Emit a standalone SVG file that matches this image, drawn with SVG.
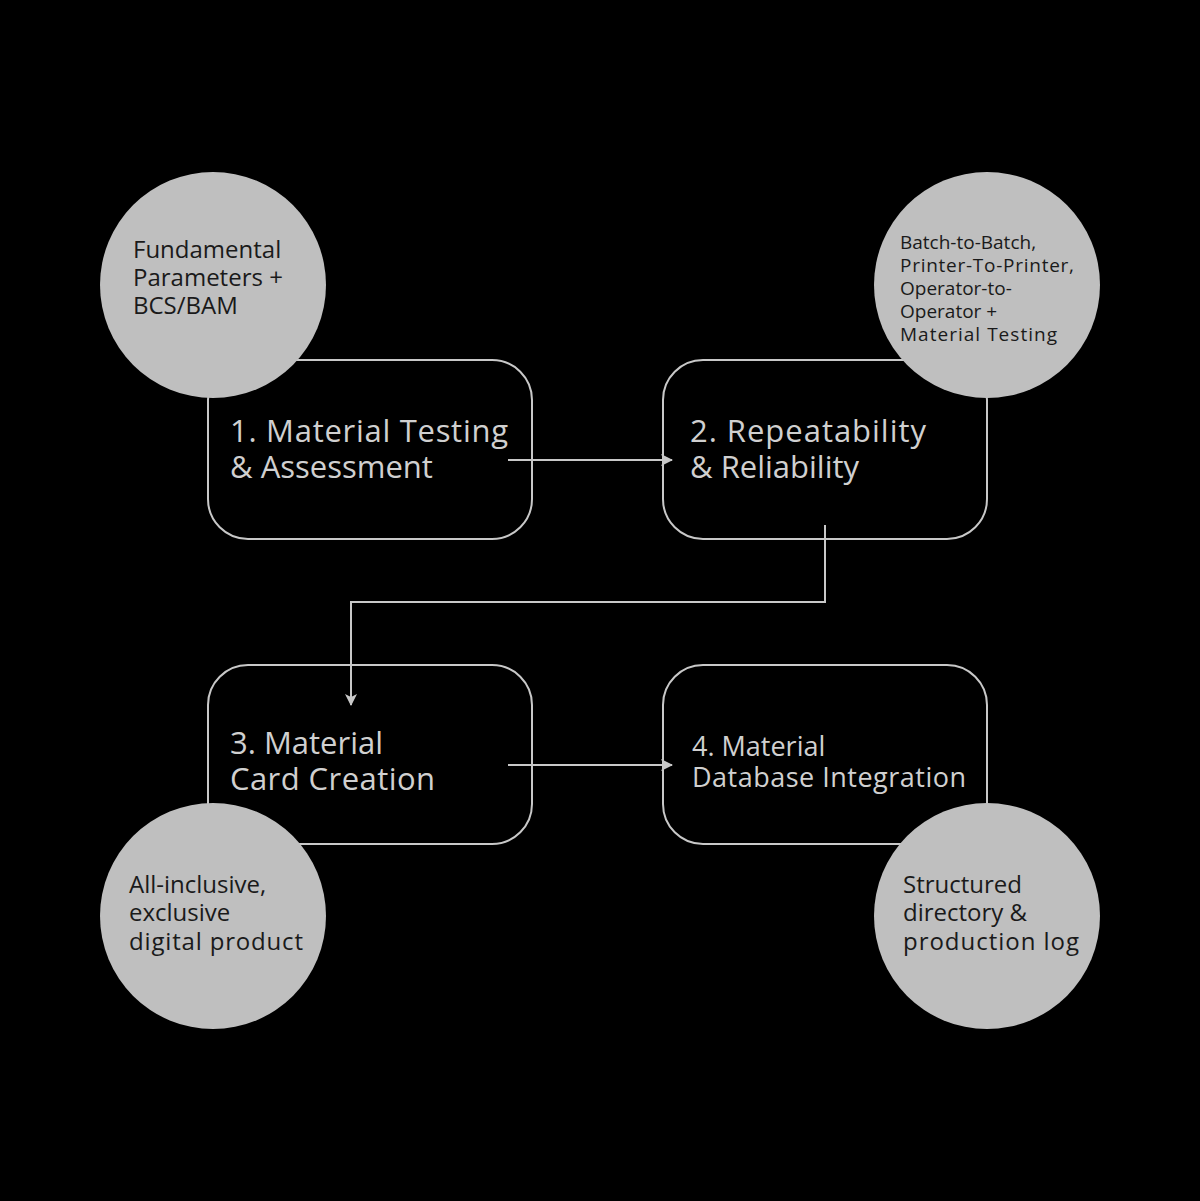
<svg xmlns="http://www.w3.org/2000/svg" width="1200" height="1201" viewBox="0 0 1200 1201">
<style>
.box{fill:#000;stroke:#c8c8c8;stroke-width:2}
.circ{fill:#bfbfbf}
.bt{font-family:"Open Sans","Noto Sans",sans-serif;font-size:31px;fill:#d0d0d0}
.bt2{font-family:"Open Sans","Noto Sans",sans-serif;font-size:27px;fill:#d0d0d0}
.ct{font-family:"Open Sans","Noto Sans",sans-serif;font-size:24px;fill:#1a1a1a}
.cs{font-family:"Open Sans","Noto Sans",sans-serif;font-size:19px;fill:#1a1a1a}
.con{fill:none;stroke:#c8c8c8;stroke-width:2}
</style>
<defs><marker id="ah" markerWidth="12" markerHeight="12" refX="11" refY="6" orient="auto" markerUnits="userSpaceOnUse"><path d="M0,0 L12,6 L0,12 L3,6 Z" fill="#c8c8c8"/></marker></defs>
<rect width="1200" height="1201" fill="#000"/>
<g id="n1"><rect class="box" x="208" y="360" width="324" height="179" rx="40"/>
<text class="bt" x="230" y="442" textLength="278">1. Material Testing</text><text class="bt" x="230" y="478">&amp; Assessment</text></g>
<g id="n2"><rect class="box" x="663" y="360" width="324" height="179" rx="40"/>
<text class="bt" x="690" y="442" textLength="236">2. Repeatability</text><text class="bt" x="690" y="478">&amp; Reliability</text></g>
<g id="n3"><rect class="box" x="208" y="665" width="324" height="179" rx="40"/>
<text class="bt" x="230" y="754">3. Material</text><text class="bt" x="230" y="790" textLength="205">Card Creation</text></g>
<g id="n4"><rect class="box" x="663" y="665" width="324" height="179" rx="40"/>
<text class="bt2" x="692" y="756">4. Material</text><text class="bt2" x="692" y="787" textLength="274">Database Integration</text></g>
<g id="c1"><circle class="circ" cx="213" cy="285" r="113"/>
<text class="ct" x="133" y="258">Fundamental</text><text class="ct" x="133" y="286">Parameters +</text><text class="ct" x="133" y="314">BCS/BAM</text></g>
<g id="c2"><circle class="circ" cx="987" cy="285" r="113"/>
<text class="cs" x="900" y="249">Batch-to-Batch,</text><text class="cs" x="900" y="272" textLength="174">Printer-To-Printer,</text><text class="cs" x="900" y="295">Operator-to-</text><text class="cs" x="900" y="318">Operator +</text><text class="cs" x="900" y="341" textLength="157">Material Testing</text></g>
<g id="c3"><circle class="circ" cx="213" cy="916" r="113"/>
<text class="ct" x="129" y="893">All-inclusive,</text><text class="ct" x="129" y="921">exclusive</text><text class="ct" x="129" y="950" textLength="174">digital product</text></g>
<g id="c4"><circle class="circ" cx="987" cy="916" r="113"/>
<text class="ct" x="903" y="893">Structured</text><text class="ct" x="903" y="921">directory &amp;</text><text class="ct" x="903" y="950" textLength="176">production log</text></g>
<g id="connectors">
<path class="con" d="M508,460 H672" marker-end="url(#ah)"/>
<path class="con" d="M825,525 V602 H351 V705" marker-end="url(#ah)"/>
<path class="con" d="M508,765 H672" marker-end="url(#ah)"/>
</g>
</svg>
